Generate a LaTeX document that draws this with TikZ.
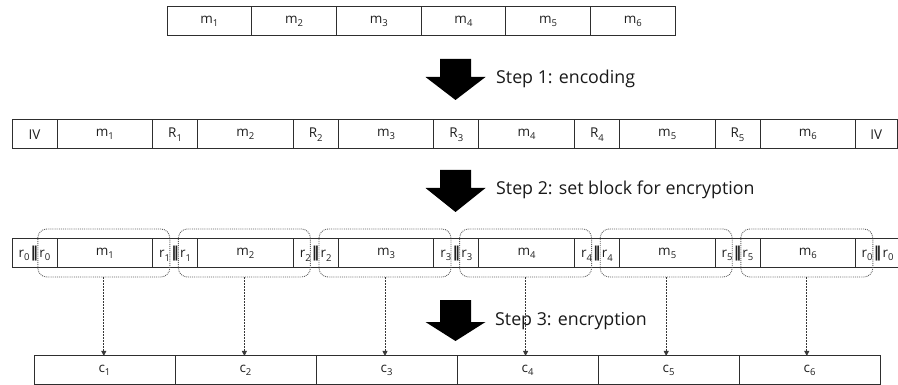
\documentclass[tikz,border=0pt]{standalone}
\usepackage{fontspec}
\setmainfont{Open Sans}
\newfontfamily\symf{DejaVu Sans}
\usetikzlibrary{arrows.meta}
\newcommand\sbs[1]{\raisebox{-0.5ex}{\fontsize{9.5}{9.5}\selectfont #1}}
\newcommand\rr[1]{r\sbs{#1}\hspace{1.2pt}{\symf\bfseries\fontsize{15}{15}\selectfont ‖}\hspace{1.2pt}r\sbs{#1}}
\begin{document}
\begin{tikzpicture}[x=1pt,y=-1pt,
  cell/.style={draw=black!82, line width=1pt, minimum height=29pt, inner sep=0pt, outer sep=0pt,
    font=\fontsize{13.5}{13.5}\selectfont, text=black!88},
  grp/.style={draw=black!62, densely dotted, line width=0.9pt, rounded corners=9pt,
    minimum height=48pt, inner sep=0pt, outer sep=0pt},
  dasharr/.style={draw=black!78, dash pattern=on 2pt off 1pt, line width=0.8pt,
    -{Triangle[width=5pt,length=5pt]}},
  steptext/.style={font=\fontsize{17.8}{17.8}\selectfont, text=black!90, inner sep=0pt},
  bigarrow/.style={fill=black}]
\useasboundingbox (0,0) rectangle (898,385);
\clip (0,0) rectangle (898,385);
% row 1
\foreach \i in {1,...,6}
  \node[cell, minimum width=84.7pt, anchor=west] (a\i) at ({167+84.7*(\i-1)},21.5) {m\sbs{\i}};
% row 2
\node[cell, minimum width=45pt, anchor=west] (iv1) at (12,134.5) {IV};
\foreach \i in {1,...,6}
  \node[cell, minimum width=95.6pt, anchor=west] (b\i) at ({57+140.6*(\i-1)},134.5) {m\sbs{\i}};
\foreach \i in {1,...,5}
  \node[cell, minimum width=45pt, anchor=west] (R\i) at (b\i.east) {R\sbs{\i}};
\node[cell, minimum width=41.4pt, anchor=west] (iv2) at (b6.east) {IV};
% row 3
\node[cell, minimum width=45pt, anchor=west] (q0) at (12,253.5) {\rr{0}};
\foreach \i in {1,...,6}
  \node[cell, minimum width=95.6pt, anchor=west] (n\i) at ({57+140.6*(\i-1)},253.5) {m\sbs{\i}};
\foreach \i in {1,...,5}
  \node[cell, minimum width=45pt, anchor=west] (q\i) at (n\i.east) {\rr{\i}};
\node[cell, minimum width=44pt, anchor=west] (q6) at (n6.east) {\rr{0}};
% groups
\foreach \i in {1,...,6}
  \node[grp, minimum width=132pt] (g\i) at ({57+140.6*(\i-1)+46.8},253) {};
% row 4
\foreach \i in {1,...,6}
  \node[cell, minimum width=141pt, minimum height=28.5pt, anchor=west] (c\i) at ({34+141*(\i-1)},370.2) {c\sbs{\i}};
% step arrows
\foreach \t/\h/\b in {59/77/100, 170/188/212, 300/322/341}
  \fill[bigarrow] (440,\t) -- (471,\t) -- (471,\h) -- (485.5,\h) -- (455.5,\b) -- (425.5,\h) -- (440,\h) -- cycle;
\node[steptext, anchor=base west] (s1) at (496,84) {Step 1: encoding};
\node[steptext, anchor=base west] (s2) at (496,195) {Step 2: set block for encryption};
\node[steptext, anchor=base west] (s3) at (495,325) {Step 3: encryption};
% dashed arrows
\foreach \i in {1,...,6}
  \draw[dasharr] (g\i.south) -- (g\i.south |- c\i.north);
\end{tikzpicture}
\end{document}
